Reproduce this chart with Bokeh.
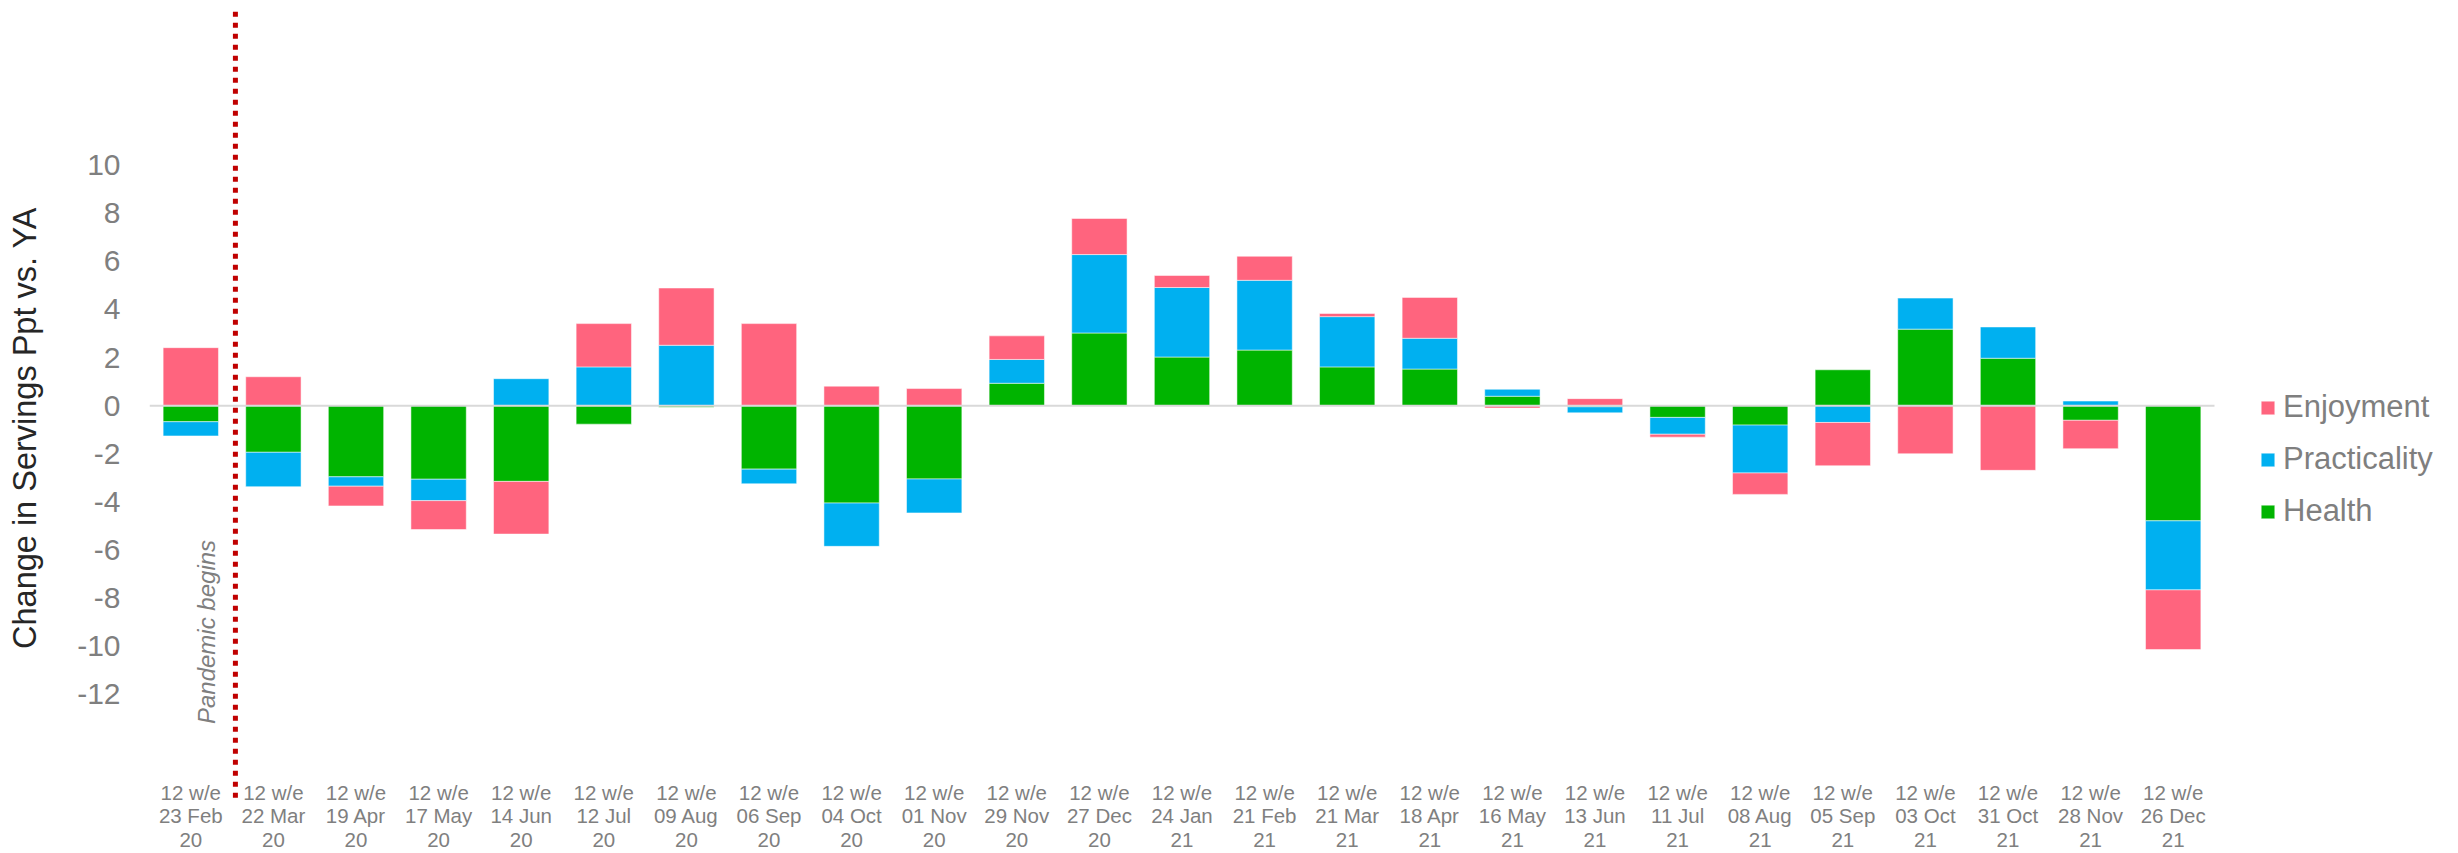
import numpy as np
from bokeh.plotting import figure
from bokeh.models import FixedTicker, Legend, LegendItem, Label, Range1d
from bokeh.embed import file_html
from bokeh.resources import INLINE

# ---------------- data ----------------
label_prefix = "12 w/e"
periods = ["23 Feb", "22 Mar", "19 Apr", "17 May", "14 Jun", "12 Jul", "09 Aug",
           "06 Sep", "04 Oct", "01 Nov", "29 Nov", "27 Dec", "24 Jan", "21 Feb",
           "21 Mar", "18 Apr", "16 May", "13 Jun", "11 Jul", "08 Aug", "05 Sep",
           "03 Oct", "31 Oct", "28 Nov", "26 Dec"]
years = ["20"] * 12 + ["21"] * 13

health = [-0.67, -1.94, -2.96, -3.06, -3.15, -0.77, -0.07, -2.64, -4.05, -3.05,
          0.93, 3.02, 2.02, 2.31, 1.61, 1.52, 0.39, -0.05, -0.49, -0.81,
          1.49, 3.18, 1.97, -0.61, -4.79]
practicality = [-0.59, -1.43, -0.39, -0.89, 1.12, 1.61, 2.51, -0.61, -1.80, -1.41,
                0.99, 3.26, 2.89, 2.90, 2.09, 1.28, 0.29, -0.25, -0.70, -1.99,
                -0.70, 1.29, 1.30, 0.19, -2.87]
enjoyment = [2.41, 1.20, -0.82, -1.20, -2.19, 1.80, 2.38, 3.41, 0.81, 0.71,
             0.98, 1.50, 0.50, 1.00, 0.13, 1.70, -0.10, 0.29, -0.12, -0.89,
             -1.80, -2.00, -2.69, -1.18, -2.48]

series_names = ["Health", "Practicality", "Enjoyment"]
series_colors = ["#00B400", "#00B0F0", "#FF647E"]

y_ticks = [-12, -10, -8, -6, -4, -2, 0, 2, 4, 6, 8, 10]
y_title = "Change in Servings Ppt vs. YA"
annotation_text = "Pandemic begins"

# ---------------- figure ----------------
FONT = "Liberation Sans"
n = len(periods)
x = np.arange(n)
legend_room = 2.954   # extra x-range (category units) right of the bars for the legend
y_lo, y_hi = -18.37, 16.51

p = figure(width=2458, height=853, output_backend="svg", toolbar_location=None,
           x_range=Range1d(-0.5, n - 0.5 + legend_room),
           y_range=Range1d(y_lo, y_hi),
           min_border_left=149, min_border_right=0, min_border_top=8,
           min_border_bottom=0)

vals = np.array([health, practicality, enjoyment], dtype=float)
pos = np.clip(vals, 0, None)
neg = np.clip(vals, None, 0)
pos_top = np.cumsum(pos, axis=0)
pos_bot = pos_top - pos
neg_bot = np.cumsum(neg, axis=0)
neg_top = neg_bot - neg
bottoms = np.where(vals >= 0, pos_bot, neg_bot)
tops = np.where(vals >= 0, pos_top, neg_top)

renderers = {}
for i, (name, color) in enumerate(zip(series_names, series_colors)):
    r = p.vbar(x=x, bottom=bottoms[i], top=tops[i], width=0.67,
               fill_color=color, line_color="white", line_alpha=0.5, line_width=1)
    renderers[name] = r

# zero line across the category range
p.segment(x0=[-0.5], x1=[n - 0.5], y0=[0], y1=[0], line_color="#D9D9D9", line_width=2)

# pandemic marker: dotted line between the first two periods
p.segment(x0=[0.54], x1=[0.54], y0=[-16.3], y1=[y_hi], line_color="#C00000",
          line_width=5, line_dash="5 6")
p.add_layout(Label(x=0.19, y=-9.41, text=annotation_text, angle=np.pi / 2,
                   text_align="center", text_baseline="middle",
                   text_font=FONT, text_font_style="italic",
                   text_font_size="24px", text_color="#7f7f7f"))

# legend (inside the frame, right of the bars)
legend = Legend(items=[LegendItem(label=nm, renderers=[renderers[nm]])
                       for nm in ["Enjoyment", "Practicality", "Health"]],
                location=(2110, 318), glyph_width=17, glyph_height=17,
                label_standoff=7, spacing=16, padding=0, margin=0,
                border_line_color=None, background_fill_alpha=0,
                label_text_font=FONT, label_text_font_size="31px",
                label_text_color="#7f7f7f")
p.add_layout(legend, "center")

# axes
p.xaxis.ticker = FixedTicker(ticks=[int(i) for i in x])
p.xaxis.major_label_overrides = {int(i): f"{label_prefix}\n{d}\n{yr}"
                                 for i, d, yr in zip(x, periods, years)}
p.xaxis.major_label_text_font = FONT
p.xaxis.major_label_text_font_size = "20.5px"
p.xaxis.major_label_text_line_height = 1.03
p.xaxis.major_label_text_color = "#7f7f7f"
p.xaxis.major_label_standoff = -73
p.xaxis.axis_line_color = None
p.xaxis.major_tick_line_color = None
p.xaxis.minor_tick_line_color = None

p.yaxis.ticker = FixedTicker(ticks=y_ticks)
p.yaxis.major_label_overrides = {t: str(t) for t in y_ticks}
p.yaxis.major_label_text_font = FONT
p.yaxis.major_label_text_font_size = "30px"
p.yaxis.major_label_text_color = "#7f7f7f"
p.yaxis.major_label_standoff = 23
p.yaxis.axis_label = y_title
p.yaxis.axis_label_text_font = FONT
p.yaxis.axis_label_text_font_size = "32.5px"
p.yaxis.axis_label_text_font_style = "normal"
p.yaxis.axis_label_text_color = "#262626"
p.yaxis.axis_label_standoff = 31
p.yaxis.axis_line_color = None
p.yaxis.major_tick_line_color = None
p.yaxis.minor_tick_line_color = None

p.xgrid.visible = False
p.ygrid.visible = False
p.outline_line_color = None

open("out.html", "w").write(file_html(p, INLINE))
